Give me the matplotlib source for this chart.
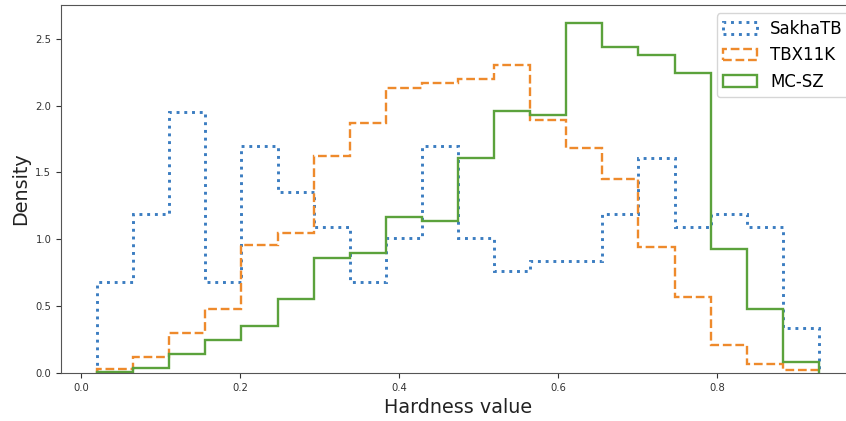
import numpy as np
import matplotlib.pyplot as plt

# bin edges (20 equal bins between min and max hardness)
bin_lo = 0.02
bin_hi = 0.928
n_bins = 20

# density per bin
sakha = [0.68, 1.19, 1.95, 0.68, 1.70, 1.35, 1.09, 0.68, 1.01, 1.70,
         1.01, 0.76, 0.84, 0.84, 1.19, 1.61, 1.09, 1.19, 1.09, 0.34]
tbx = [0.03, 0.12, 0.30, 0.48, 0.96, 1.05, 1.62, 1.87, 2.13, 2.17,
       2.20, 2.30, 1.89, 1.68, 1.45, 0.94, 0.57, 0.21, 0.07, 0.02]
mcsz = [0.01, 0.04, 0.14, 0.25, 0.35, 0.55, 0.86, 0.90, 1.17, 1.14,
        1.61, 1.96, 1.93, 2.62, 2.44, 2.38, 2.24, 0.93, 0.48, 0.08]

labels = ['SakhaTB', 'TBX11K', 'MC-SZ']
colors = ['#3b7dc1', '#ee8a2c', '#5ba23c']
styles = [':', '--', '-']
widths = [2.1, 1.7, 1.7]

edges = np.linspace(bin_lo, bin_hi, n_bins + 1)
centers = (edges[:-1] + edges[1:]) / 2

fig = plt.figure(figsize=(8.46, 4.21), dpi=100)
ax = fig.add_axes([0.0721, 0.114, 0.9385, 0.874])

for vals, lab, c, ls, lw in zip([sakha, tbx, mcsz], labels, colors, styles, widths):
    ax.hist(centers, bins=edges, weights=vals, histtype='step',
            color=c, linestyle=ls, linewidth=lw, label=lab)

ax.tick_params(labelsize=7.2, colors='#333333', labelcolor='#333333')
for s in ax.spines.values():
    s.set_color('#555555')
ax.set_xlabel('Hardness value', fontsize=13.8, color='#222222')
ax.set_ylabel('Density', fontsize=13.8, color='#222222')

ax.legend(loc='upper right', bbox_to_anchor=(1.004, 0.968),
          bbox_transform=fig.transFigure, borderaxespad=0, fontsize=12)

fig.savefig('out.png', dpi=100)
